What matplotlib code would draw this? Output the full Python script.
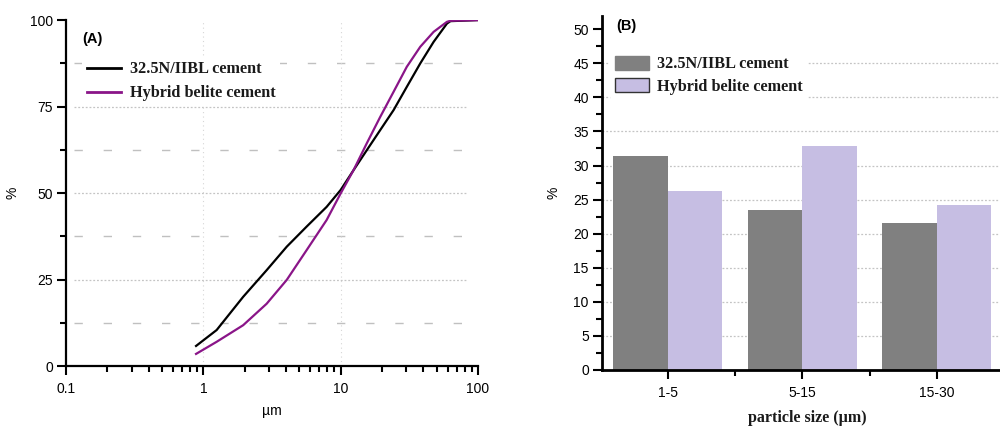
import matplotlib
matplotlib.use("Agg")
import matplotlib.pyplot as plt
from matplotlib.patches import Patch
from matplotlib.lines import Line2D
import numpy as np

# ---- Data panel A (cumulative PSD) ----
size_opc = [0.885, 1.25, 1.95, 2.89, 4.05, 5.65, 7.9, 10.0, 12.4, 15.5, 19.4, 24.3, 30.3, 38.0, 47.5, 59.4, 63.0, 100.0]
cum_opc = [5.8, 10.4, 20.0, 27.7, 34.5, 40.3, 46.0, 50.9, 56.6, 62.4, 68.2, 74.0, 80.7, 87.5, 93.7, 99.0, 99.7, 100.0]
size_hbc = [0.885, 1.25, 1.95, 2.89, 4.05, 5.65, 7.9, 10.0, 12.4, 15.5, 19.4, 24.3, 30.3, 38.0, 47.5, 59.4, 63.0, 100.0]
cum_hbc = [3.5, 7.0, 11.8, 18.0, 24.9, 33.5, 42.2, 49.9, 56.6, 64.4, 72.0, 79.3, 86.5, 92.3, 96.6, 99.5, 99.8, 100.0]

# ---- Data panel B (fractions) ----
categories = ["1-5", "5-15", "15-30"]
frac_opc = [31.4, 23.4, 21.5]
frac_hbc = [26.3, 32.8, 24.2]

series_names = ["32.5N/IIBL cement", "Hybrid belite cement"]
line_colors = ["#000000", "#8a1588"]
bar_colors = ["#808080", "#c6bee3"]

sans = ["Liberation Sans", "DejaVu Sans"]
serif = ["Liberation Serif", "DejaVu Serif"]
plt.rcParams['font.family'] = sans
text_col = "#1a1a1a"

fig = plt.figure(figsize=(10, 4.26), dpi=100)

# ================= Panel A =================
axA = fig.add_axes([0.066, 0.1408, 0.412, 0.812])
axA.set_xscale('log')
axA.set_xlim(0.1, 100)
axA.set_ylim(0, 100)

# grid lines
for yv in [25, 50, 75]:
    axA.axhline(yv, xmin=0.02, xmax=0.97, color="#c4c4c4", lw=0.9, ls=(0, (1.5, 1.5)), zorder=0)
for yv in [12.5, 37.5, 62.5, 87.5]:
    axA.axhline(yv, xmin=0.02, xmax=0.98, color="#c0c0c0", lw=1.0, ls=(0, (6, 15)), zorder=0)
for xv in [1, 10]:
    axA.axvline(xv, color="#d6d6d6", lw=0.8, ls=(0, (1, 3)), zorder=0)

axA.plot(size_opc, cum_opc, color=line_colors[0], lw=1.6, zorder=3)
axA.plot(size_hbc, cum_hbc, color=line_colors[1], lw=1.6, zorder=3)

axA.set_yticks([0, 25, 50, 75, 100])
axA.set_yticks([12.5, 37.5, 62.5, 87.5], minor=True)
axA.set_xticks([0.1, 1, 10, 100])
axA.set_xticklabels(["0.1", "1", "10", "100"])
axA.tick_params(axis='both', which='major', direction='out', length=6.5, width=1.5, labelsize=10, pad=3)
axA.tick_params(axis='x', which='major', pad=5)
axA.tick_params(axis='both', which='minor', direction='out', length=4, width=1.5)
for sp in ['top', 'right']:
    axA.spines[sp].set_visible(False)
for sp in ['left', 'bottom']:
    axA.spines[sp].set_linewidth(1.6)

axA.set_xlabel("µm", fontsize=10, labelpad=6)
axA.set_ylabel("%", fontsize=10, labelpad=7)
axA.text(0.04, 0.965, "(A)", transform=axA.transAxes, fontsize=10.5, fontweight='bold', va='top', ha='left')

handlesA = [Line2D([], [], color=line_colors[0], lw=2), Line2D([], [], color=line_colors[1], lw=2)]
legA = axA.legend(handlesA, series_names, loc='upper left', bbox_to_anchor=(0.04, 0.895),
                  frameon=True, facecolor='white', edgecolor='none', framealpha=1,
                  prop={'family': serif, 'weight': 'bold', 'size': 11.7},
                  handlelength=2.1, handletextpad=0.5, labelspacing=0.5, borderpad=0.3,
                  borderaxespad=0)
for t in legA.get_texts():
    t.set_color(text_col)

# ================= Panel B =================
axB = fig.add_axes([0.602, 0.1315, 0.41, 0.832])
axB.set_xlim(-0.49, 2.56)
axB.set_ylim(0, 52)
x = np.arange(len(categories))
w = 0.405
for yv in [5, 10, 15, 20, 25, 30, 35, 40, 45]:
    axB.axhline(yv, color="#c4c4c4", lw=0.9, ls=(0, (1.5, 1.5)), zorder=0)
axB.bar(x - w / 2, frac_opc, width=w, color=bar_colors[0], zorder=2)
axB.bar(x + w / 2, frac_hbc, width=w, color=bar_colors[1], zorder=2)

axB.set_xticks(x)
axB.set_xticklabels(categories)
axB.set_xticks([0.5, 1.5, 2.5], minor=True)
axB.set_yticks(np.arange(0, 51, 5))
axB.set_yticks(np.arange(2.5, 51, 5), minor=True)
axB.tick_params(axis='both', which='major', direction='out', length=6.5, width=1.5, labelsize=10, pad=3)
axB.tick_params(axis='x', which='major', pad=5)
axB.tick_params(axis='both', which='minor', direction='out', length=4, width=1.5)
for sp in ['top', 'right']:
    axB.spines[sp].set_visible(False)
for sp in ['left', 'bottom']:
    axB.spines[sp].set_linewidth(2)

axB.set_xlabel("particle size (µm)", family=serif, fontweight='bold', fontsize=11.5, labelpad=7, color=text_col)
axB.set_ylabel("%", fontsize=10, labelpad=9)
axB.text(0.035, 0.99, "(B)", transform=axB.transAxes, fontsize=10.5, fontweight='bold', va='top', ha='left')

handlesB = [Patch(facecolor=bar_colors[0], edgecolor=bar_colors[0]),
            Patch(facecolor=bar_colors[1], edgecolor="#333333", lw=1)]
legB = axB.legend(handlesB, series_names, loc='upper left', bbox_to_anchor=(0.02, 0.90),
                  frameon=True, facecolor='white', edgecolor='none', framealpha=1,
                  prop={'family': serif, 'weight': 'bold', 'size': 11.7},
                  handlelength=2.1, handleheight=0.95, handletextpad=0.5, labelspacing=0.35, borderpad=0.3,
                  borderaxespad=0)
for t in legB.get_texts():
    t.set_color(text_col)

fig.savefig("out.png", dpi=100)
